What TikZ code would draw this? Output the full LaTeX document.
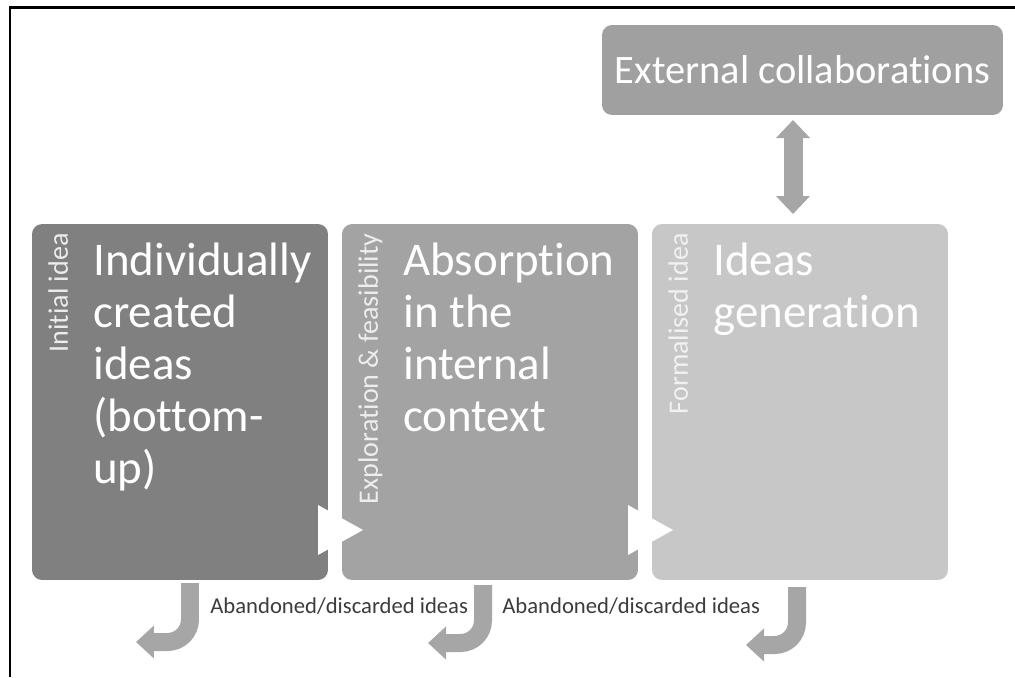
\documentclass[tikz,border=0pt]{standalone}
\usepackage{fontspec}
\setmainfont[Ligatures=NoCommon]{Carlito}
\usetikzlibrary{arrows.meta}
\definecolor{cA}{RGB}{128,128,128}
\definecolor{cB}{RGB}{163,163,163}
\definecolor{cC}{RGB}{199,199,199}
\definecolor{cExt}{RGB}{160,160,160}
\definecolor{cArr}{RGB}{166,166,166}
\definecolor{cTxt}{RGB}{60,60,60}
\tikzset{
  stage/.style={rounded corners=0.2cm, minimum width=5.92cm, minimum height=7.12cm, inner sep=0pt, draw=none},
  bigtext/.style={text=white, font=\fontsize{26.7}{29.5}\selectfont, align=left, inner sep=0pt, anchor=north west},
  sidetext/.style={font=\fontsize{16}{18}\selectfont, rotate=90, anchor=north east, inner sep=0pt},
  abtext/.style={text=cTxt, font=\fontsize{12.9}{15}\selectfont, anchor=base west, inner sep=0pt},
  bent/.style={draw=cArr, line width=0.36cm, rounded corners=0.45cm, -{Triangle[width=0.64cm,length=0.36cm]}},
  dbl/.style={draw=cArr, line width=0.38cm, {Triangle[width=0.66cm,length=0.36cm]}-{Triangle[width=0.66cm,length=0.36cm]}},
}
\begin{document}
\begin{tikzpicture}[x=0.02cm,y=-0.02cm]
\useasboundingbox (0,0) rectangle (1015,677);
\draw[line width=0.06cm] (10,677) -- (10,7) -- (1015,7);
% stages
\node[stage, fill=cA] (b1) at (180,402) {};
\node[stage, fill=cB] (b2) at (490,402) {};
\node[stage, fill=cC] (b3) at (800,402) {};
\node[rounded corners=0.2cm, fill=cExt, minimum width=8.02cm, minimum height=1.8cm, inner sep=0pt,
  text=white, font=\fontsize{23}{26}\selectfont] (ext) at (802.5,70) {\raisebox{-0.08cm}{External collaborations}};
% white chevrons
\fill[white] (318,505) -- (363,530) -- (318,555) -- cycle;
\fill[white] (628,505) -- (673,530) -- (628,555) -- cycle;
% main texts
\node[bigtext] (t1) at (93,243) {Individually\\created\\ideas\\(bottom-\\up)};
\node[bigtext] (t2) at (403,243) {Absorption\\in the\\internal\\context};
\node[bigtext] (t3) at (713,243) {Ideas\\generation};
% side labels
\node[sidetext, text=white!85!cA] (s1) at (48,233) {Initial idea};
\node[sidetext, text=white!80!cB] (s2) at (358,233) {Exploration \& feasibility};
\node[sidetext, text=white!75!cC] (s3) at (668,233) {Formalised idea};
% double arrow
\draw[dbl] (793,120) coordinate (d1) -- (793,214) coordinate (d2);
% bent arrows
\coordinate (a1s) at (190,583); \coordinate (a1m) at (190,642); \coordinate (a1e) at (136,642);
\coordinate (a2s) at (483,585); \coordinate (a2m) at (483,643); \coordinate (a2e) at (428,643);
\coordinate (a3s) at (797,587); \coordinate (a3m) at (797,645); \coordinate (a3e) at (746,645);
\draw[bent] (a1s) -- (a1m) -- (a1e);
\draw[bent] (a2s) -- (a2m) -- (a2e);
\draw[bent] (a3s) -- (a3m) -- (a3e);
% abandoned labels
\node[abtext] (ab1) at (210,613) {Abandoned/discarded ideas};
\node[abtext] (ab2) at (502,613) {Abandoned/discarded ideas};
\end{tikzpicture}
\end{document}
